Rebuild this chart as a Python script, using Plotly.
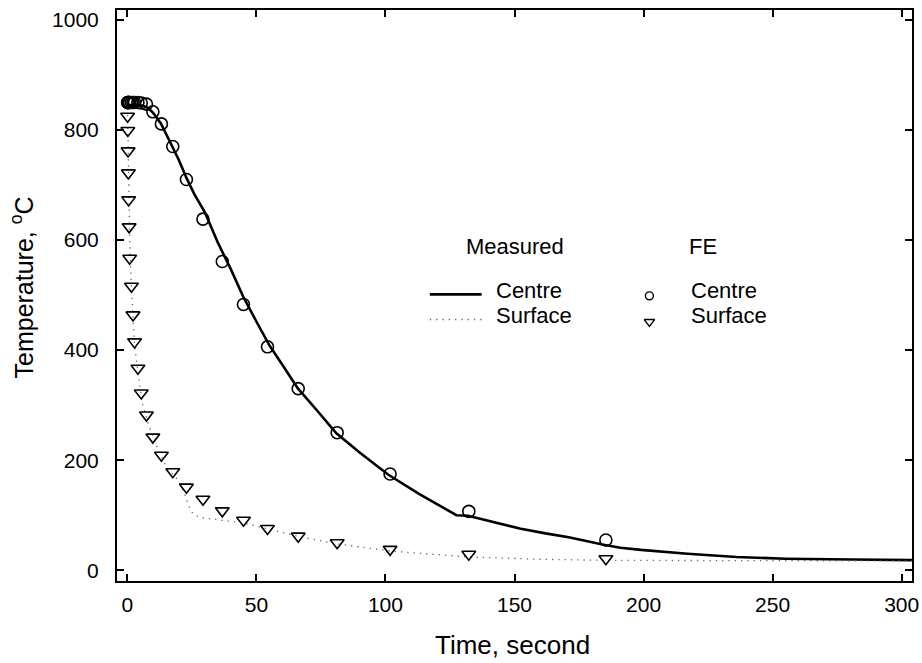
import plotly.graph_objects as go

# ---------------- data ----------------
# Measured centre (solid line)
meas_centre_t = [0, 3, 6, 8, 10, 13, 17, 20, 23, 26, 30, 35, 40, 45, 50, 55, 60, 66, 73, 81,
                 90, 101, 113, 127.5, 132, 142, 152, 162, 171, 185, 191, 199, 217, 236, 255, 281, 304]
meas_centre_T = [845, 846, 844, 840, 831, 812, 774, 745, 712, 683, 651, 596, 548, 496, 452, 409, 374, 331, 293, 249,
                 214, 174, 139, 100, 99, 87, 76, 67, 60, 46, 41, 37, 30, 24, 21, 19.5, 18.5]

# Measured surface (dotted line)
meas_surf_t = [0, 0.3, 0.6, 0.9, 1.3, 1.6, 2.2, 2.8, 4.1, 5.8, 8.3, 11.2, 15.1, 19.6, 22.2, 24, 25.4, 28,
               34.5, 44.8, 53.9, 66.8, 79.7, 101.7, 132.7, 160, 185.7, 220, 260, 304]
meas_surf_T = [850, 790, 700, 600, 540, 510, 460, 410, 360, 303, 264, 227, 188, 164, 139, 115, 103, 96,
               92, 86, 76, 61, 49, 35, 24, 20, 18, 17.5, 17, 17]

# FE predictions (markers)
fe_t = [0.1, 0.2, 0.3, 0.4, 0.5, 0.7, 0.9, 1.6, 2.2, 2.8, 4.1, 5.4, 7.4, 9.9, 13.2, 17.6, 22.9,
        29.3, 36.8, 45.0, 54.3, 66.2, 81.3, 101.8, 132.3, 185.4]
fe_centre_T = [850, 850, 850, 850, 850, 850, 850, 850, 850, 850, 850, 849, 847, 833, 811, 770, 710,
               638, 561, 483, 406, 330, 250, 175, 107, 55]
fe_surf_T = [825, 799, 762, 722, 673, 624, 567, 516, 464, 415, 367, 322, 282, 242, 209, 179, 151,
             129, 108, 91, 76, 62, 50, 38, 29, 21]

x_ticks = [0, 50, 100, 150, 200, 250, 300]
y_ticks = [0, 200, 400, 600, 800, 1000]

FONT = "Liberation Sans, Arial, sans-serif"
DOT = "1.3px,5px"

fig = go.Figure()

fig.add_trace(go.Scatter(x=meas_centre_t, y=meas_centre_T, mode="lines",
                         line=dict(color="black", width=2.6), showlegend=False))
fig.add_trace(go.Scatter(x=meas_surf_t, y=meas_surf_T, mode="lines",
                         line=dict(color="#666666", width=1.3, dash=DOT), showlegend=False))
fig.add_trace(go.Scatter(x=fe_t, y=fe_centre_T, mode="markers",
                         marker=dict(symbol="circle-open", size=12, color="black",
                                     line=dict(width=1.6, color="black")), showlegend=False))
fig.add_trace(go.Scatter(x=fe_t, y=fe_surf_T, mode="markers",
                         marker=dict(symbol="triangle-down-open", size=12, color="black",
                                     line=dict(width=1.6, color="black")), showlegend=False))

# ---------------- custom legend (overlay axes in [0,1]) ----------------
leg_line_x = [0.3935, 0.4587]
fig.add_trace(go.Scatter(x=leg_line_x, y=[0.502, 0.502], mode="lines", xaxis="x2", yaxis="y2",
                         line=dict(color="black", width=2.6), showlegend=False, hoverinfo="skip"))
fig.add_trace(go.Scatter(x=leg_line_x, y=[0.458, 0.458], mode="lines", xaxis="x2", yaxis="y2",
                         line=dict(color="#666666", width=1.3, dash=DOT), showlegend=False, hoverinfo="skip"))
fig.add_trace(go.Scatter(x=[0.6697], y=[0.4994], mode="markers", xaxis="x2", yaxis="y2",
                         marker=dict(symbol="circle-open", size=8, color="black", line=dict(width=1.4)),
                         showlegend=False, hoverinfo="skip"))
fig.add_trace(go.Scatter(x=[0.6697], y=[0.4539], mode="markers", xaxis="x2", yaxis="y2",
                         marker=dict(symbol="triangle-down-open", size=9, color="black", line=dict(width=1.4)),
                         showlegend=False, hoverinfo="skip"))

legend_texts = [
    ("Measured", 0.5012, 0.585, "center"),
    ("FE", 0.7367, 0.585, "center"),
    ("Centre", 0.4742, 0.508, "left"),
    ("Surface", 0.4742, 0.465, "left"),
    ("Centre", 0.720, 0.508, "left"),
    ("Surface", 0.720, 0.465, "left"),
]
annotations = []
for txt, ax, ay, anc in legend_texts:
    annotations.append(dict(text=txt, x=ax, y=ay, xref="paper", yref="paper",
                            xanchor=anc, yanchor="middle", showarrow=False,
                            font=dict(family=FONT, size=22, color="black")))

# axis titles
annotations.append(dict(text="Time, second", x=0.498, y=-0.112, xref="paper", yref="paper",
                        xanchor="center", yanchor="middle", showarrow=False,
                        font=dict(family=FONT, size=26, color="black")))
annotations.append(dict(text="Temperature, <sup>o</sup>C", x=-0.1195, y=0.514, xref="paper", yref="paper",
                        xanchor="center", yanchor="middle", showarrow=False, textangle=-90,
                        font=dict(family=FONT, size=25, color="black")))

axis_common = dict(
    showline=True, linecolor="black", linewidth=2, mirror="ticks",
    ticks="inside", ticklen=7, tickwidth=2, tickcolor="black",
    showgrid=False, zeroline=False, automargin=False,
    tickfont=dict(family=FONT, size=21, color="black"),
)

fig.update_layout(
    width=922, height=663,
    margin=dict(l=117, r=10, t=10, b=82),
    paper_bgcolor="white", plot_bgcolor="white",
    font=dict(family=FONT, color="black"),
    xaxis=dict(range=[-4, 304], tickvals=x_ticks, ticktext=[str(v) for v in x_ticks],
               ticklabelstandoff=4, **axis_common),
    yaxis=dict(range=[-19.5, 1018], tickvals=y_ticks, ticktext=[str(v) for v in y_ticks],
               ticklabelstandoff=12, **axis_common),
    xaxis2=dict(range=[0, 1], overlaying="x", visible=False, fixedrange=True),
    yaxis2=dict(range=[0, 1], overlaying="y", visible=False, fixedrange=True),
    annotations=annotations,
    showlegend=False,
)

fig.write_html("out.html", config={"displayModeBar": False},
               post_script="document.body.style.margin='0px';document.body.style.padding='0px';")
